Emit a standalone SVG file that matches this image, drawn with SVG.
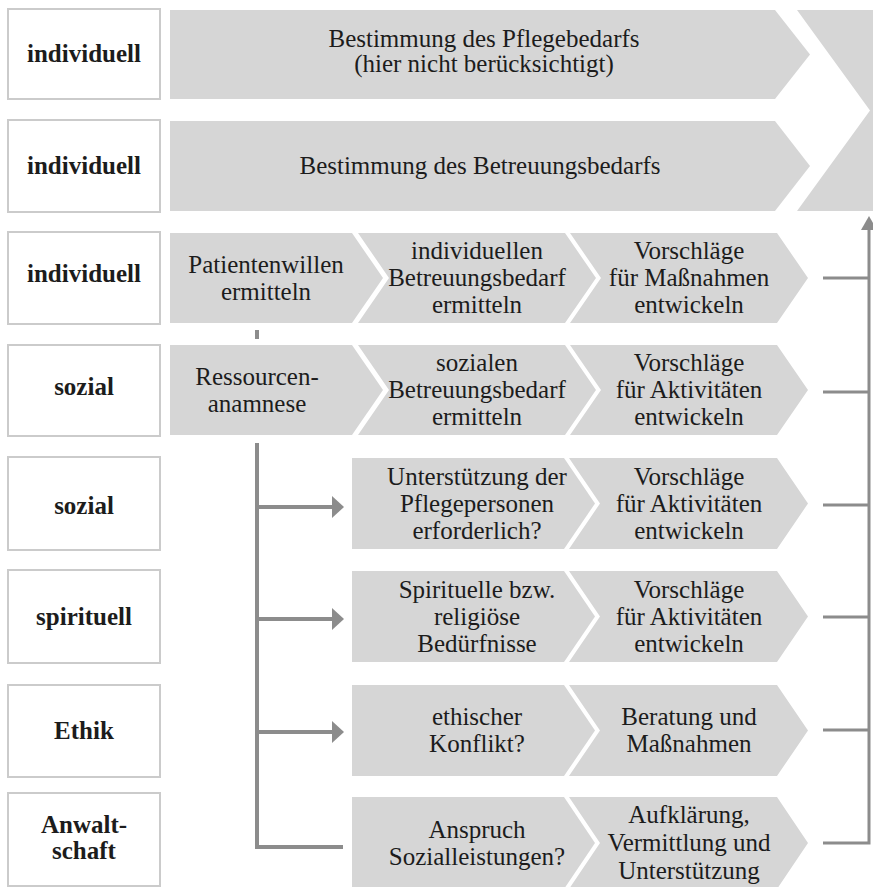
<svg xmlns="http://www.w3.org/2000/svg" width="873" height="887" viewBox="0 0 873 887">
  <style>
    .band { fill: #d6d6d6; }
    .lbl { fill: #ffffff; stroke: #cbcbcb; stroke-width: 2; }
    .t { font-family: "Liberation Serif", "Times New Roman", serif; font-size: 25px; fill: #1c1c1c; text-anchor: middle; }
    .b { font-weight: bold; }
    .conn { stroke: #8c8c8c; stroke-width: 4; fill: none; }
    .back { stroke: #8c8c8c; stroke-width: 3; fill: none; }
  </style>
  <defs>
    <marker id="head" markerUnits="userSpaceOnUse" markerWidth="12" markerHeight="22" refX="0" refY="11" orient="auto">
      <path d="M0,0 L12,11 L0,22 z" fill="#8c8c8c"/>
    </marker>
    <marker id="headUp" markerUnits="userSpaceOnUse" markerWidth="14" markerHeight="16" refX="0" refY="8" orient="auto">
      <path d="M0,0 L14,8 L0,16 z" fill="#8c8c8c"/>
    </marker>
  </defs>

  <rect width="873" height="887" fill="#ffffff"/>

  <!-- row labels -->
  <g id="label-1"><rect class="lbl" x="8" y="9" width="152" height="90"/><text class="t b" x="84" y="62">individuell</text></g>
  <g id="label-2"><rect class="lbl" x="8" y="120" width="152" height="92"/><text class="t b" x="84" y="174">individuell</text></g>
  <g id="label-3"><rect class="lbl" x="8" y="232" width="152" height="92"/><text class="t b" x="84" y="282">individuell</text></g>
  <g id="label-4"><rect class="lbl" x="8" y="345" width="152" height="91"/><text class="t b" x="84" y="395">sozial</text></g>
  <g id="label-5"><rect class="lbl" x="8" y="457" width="152" height="93"/><text class="t b" x="84" y="514">sozial</text></g>
  <g id="label-6"><rect class="lbl" x="8" y="570" width="152" height="93"/><text class="t b" x="84" y="625">spirituell</text></g>
  <g id="label-7"><rect class="lbl" x="8" y="685" width="152" height="92"/><text class="t b" x="84" y="739">Ethik</text></g>
  <g id="label-8"><rect class="lbl" x="8" y="793" width="152" height="93"/><text class="t b" x="84"><tspan x="84" y="833">Anwalt-</tspan><tspan x="84" y="859">schaft</tspan></text></g>

  <!-- top process bands -->
  <g id="pflegebedarf">
    <polygon class="band" points="170,10 775,10 810,54.5 775,99 170,99"/>
    <text class="t"><tspan x="484" y="47">Bestimmung des Pflegebedarfs</tspan><tspan x="484" y="72">(hier nicht berücksichtigt)</tspan></text>
  </g>
  <g id="betreuungsbedarf">
    <polygon class="band" points="170,121 775,121 810,166 775,211 170,211"/>
    <text class="t" x="480" y="174">Bestimmung des Betreuungsbedarfs</text>
  </g>
  <g id="next-step">
    <polygon class="band" points="797,10 880,10 880,211 797,211 870,110.5"/>
  </g>

  <!-- row 3 -->
  <g id="patientenwillen">
    <polygon class="band" points="170,233 352,233 383,278 352,323 170,323"/>
    <text class="t"><tspan x="266" y="272.5">Patientenwillen</tspan><tspan x="266" y="299.5">ermitteln</tspan></text>
  </g>
  <g id="ind-betreuungsbedarf">
    <polygon class="band" points="358,233 565,233 596,278 565,323 358,323 389,278"/>
    <text class="t"><tspan x="477" y="259">individuellen</tspan><tspan x="477" y="286">Betreuungsbedarf</tspan><tspan x="477" y="313">ermitteln</tspan></text>
  </g>
  <g id="massnahmen-entwickeln">
    <polygon class="band" points="570,233 777,233 808,278 777,323 570,323 601,278"/>
    <text class="t"><tspan x="689" y="259">Vorschläge</tspan><tspan x="689" y="286">für Maßnahmen</tspan><tspan x="689" y="313">entwickeln</tspan></text>
  </g>

  <!-- row 4 -->
  <g id="ressourcen">
    <polygon class="band" points="170,345 352,345 383,390 352,435 170,435"/>
    <text class="t"><tspan x="257" y="384.5">Ressourcen-</tspan><tspan x="257" y="411.5">anamnese</tspan></text>
  </g>
  <g id="soz-betreuungsbedarf">
    <polygon class="band" points="358,345 565,345 596,390 565,435 358,435 389,390"/>
    <text class="t"><tspan x="477" y="371">sozialen</tspan><tspan x="477" y="398">Betreuungsbedarf</tspan><tspan x="477" y="425">ermitteln</tspan></text>
  </g>
  <g id="aktivitaeten-1">
    <polygon class="band" points="570,345 777,345 808,390 777,435 570,435 601,390"/>
    <text class="t"><tspan x="689" y="371">Vorschläge</tspan><tspan x="689" y="398">für Aktivitäten</tspan><tspan x="689" y="425">entwickeln</tspan></text>
  </g>

  <!-- row 5 -->
  <g id="pflegepersonen">
    <polygon class="band" points="352,458 564,458 595,503.5 564,549 352,549"/>
    <text class="t"><tspan x="477" y="484.5">Unterstützung der</tspan><tspan x="477" y="511.5">Pflegepersonen</tspan><tspan x="477" y="538.5">erforderlich?</tspan></text>
  </g>
  <g id="aktivitaeten-2">
    <polygon class="band" points="569,458 777,458 808,503.5 777,549 569,549 600,503.5"/>
    <text class="t"><tspan x="689" y="484.5">Vorschläge</tspan><tspan x="689" y="511.5">für Aktivitäten</tspan><tspan x="689" y="538.5">entwickeln</tspan></text>
  </g>

  <!-- row 6 -->
  <g id="spirituelle">
    <polygon class="band" points="352,571 564,571 595,616.5 564,662 352,662"/>
    <text class="t"><tspan x="477" y="597.5">Spirituelle bzw.</tspan><tspan x="477" y="624.5">religiöse</tspan><tspan x="477" y="651.5">Bedürfnisse</tspan></text>
  </g>
  <g id="aktivitaeten-3">
    <polygon class="band" points="569,571 777,571 808,616.5 777,662 569,662 600,616.5"/>
    <text class="t"><tspan x="689" y="597.5">Vorschläge</tspan><tspan x="689" y="624.5">für Aktivitäten</tspan><tspan x="689" y="651.5">entwickeln</tspan></text>
  </g>

  <!-- row 7 -->
  <g id="konflikt">
    <polygon class="band" points="352,685 564,685 595,730.5 564,776 352,776"/>
    <text class="t"><tspan x="477" y="725">ethischer</tspan><tspan x="477" y="752">Konflikt?</tspan></text>
  </g>
  <g id="beratung">
    <polygon class="band" points="569,685 777,685 808,730.5 777,776 569,776 600,730.5"/>
    <text class="t"><tspan x="689" y="725">Beratung und</tspan><tspan x="689" y="752">Maßnahmen</tspan></text>
  </g>

  <!-- row 8 -->
  <g id="sozialleistungen">
    <polygon class="band" points="352,797 564,797 595,843 564,889 352,889"/>
    <text class="t"><tspan x="477" y="837.5">Anspruch</tspan><tspan x="477" y="864.5">Sozialleistungen?</tspan></text>
  </g>
  <g id="aufklaerung">
    <polygon class="band" points="569,797 777,797 808,843 777,889 569,889 600,843"/>
    <text class="t"><tspan x="689" y="823">Aufklärung,</tspan><tspan x="689" y="851">Vermittlung und</tspan><tspan x="689" y="879">Unterstützung</tspan></text>
  </g>

  <!-- connectors -->
  <g id="connectors">
    <line class="conn" x1="257" y1="330" x2="257" y2="339" stroke="#a8a8a8"/>
    <polyline class="conn" points="257,443 257,847 343,847"/>
    <line class="conn" x1="257" y1="507" x2="332" y2="507" marker-end="url(#head)"/>
    <line class="conn" x1="257" y1="619" x2="332" y2="619" marker-end="url(#head)"/>
    <line class="conn" x1="257" y1="732" x2="332" y2="732" marker-end="url(#head)"/>

    <line class="back" x1="823" y1="278" x2="869" y2="278"/>
    <line class="back" x1="823" y1="392" x2="869" y2="392"/>
    <line class="back" x1="823" y1="505" x2="869" y2="505"/>
    <line class="back" x1="823" y1="617" x2="869" y2="617"/>
    <line class="back" x1="823" y1="730" x2="869" y2="730"/>
    <polyline class="back" points="823,843 869,843 869,230" marker-end="url(#headUp)"/>
  </g>
</svg>
